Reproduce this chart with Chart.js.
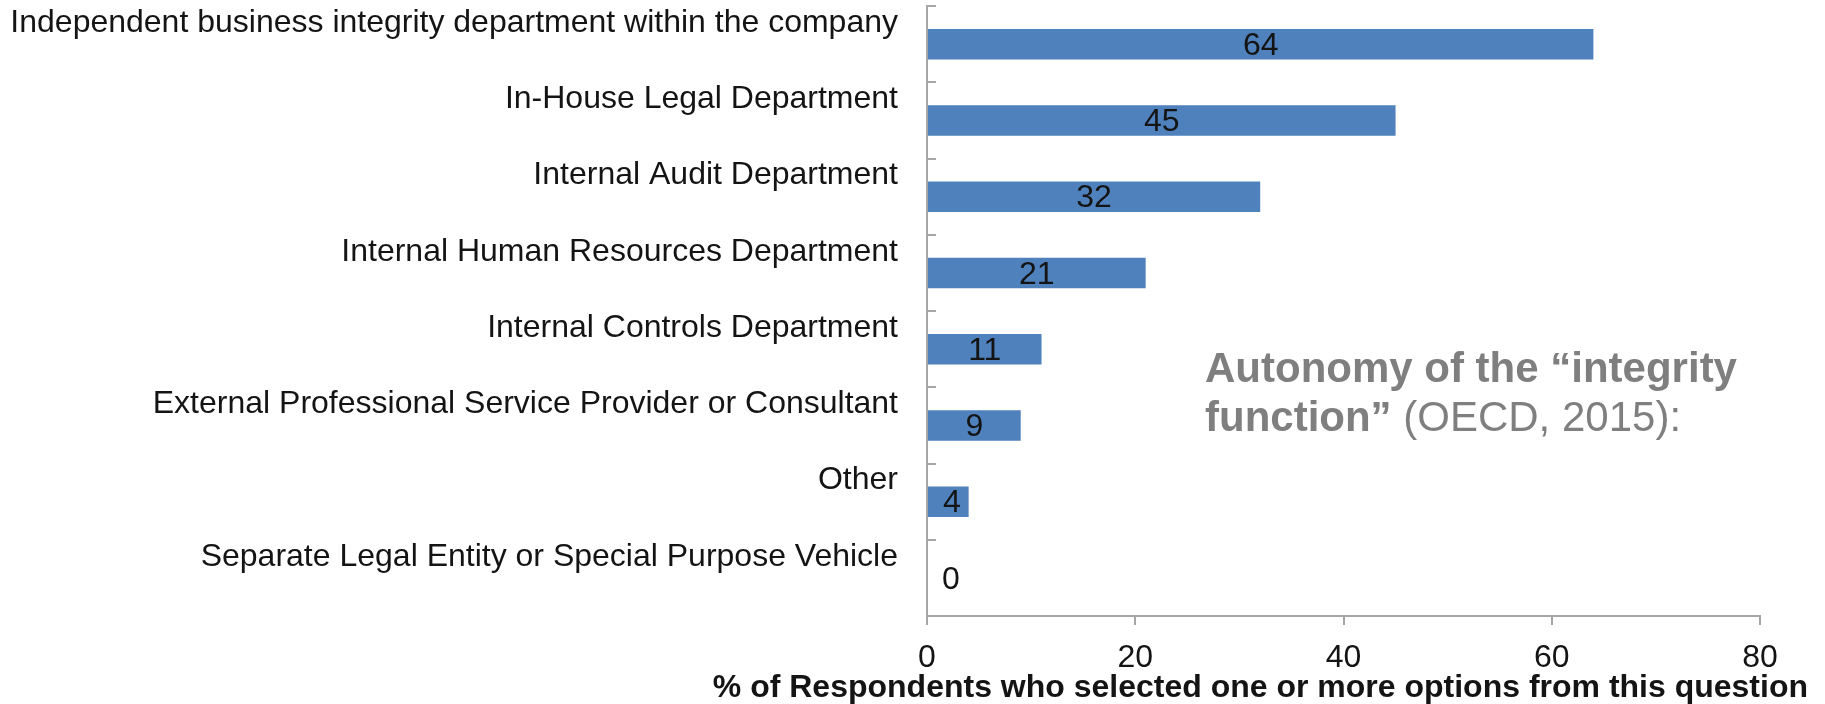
<!DOCTYPE html>
<html>
<head>
<meta charset="utf-8">
<script src="https://cdn.jsdelivr.net/npm/chart.js@4.4.1/dist/chart.umd.min.js"></script>
<style>
  html, body { margin: 0; padding: 0; background: #fff; }
  #wrap { width: 1825px; height: 704px; }
</style>
</head>
<body>
<div id="wrap"><canvas id="chart" width="1825" height="704"></canvas></div>
<script>
// survey answers, top to bottom
const categories = [
  "Independent business integrity department within the company",
  "In-House Legal Department",
  "Internal Audit Department",
  "Internal Human Resources Department",
  "Internal Controls Department",
  "External Professional Service Provider or Consultant",
  "Other",
  "Separate Legal Entity or Special Purpose Vehicle"
];
const percentages = [64, 45, 32, 21, 11, 9, 4, 0];
const xTicks = [0, 20, 40, 60, 80];
const xTitle = "% of Respondents who selected one or more options from this question";
const noteBold = "Autonomy of the \u201Cintegrity";
const noteBold2 = "function\u201D";
const noteRest = " (OECD, 2015):";

const FONT = "'Liberation Sans', Arial, sans-serif";
const axisGrey = "#a6a6a6";

// value labels in the middle of each bar (zero bars get a small nudge off the axis)
const valueLabels = {
  id: "valueLabels",
  afterDatasetsDraw(chart) {
    const ctx = chart.ctx;
    const meta = chart.getDatasetMeta(0);
    ctx.save();
    ctx.font = "32px " + FONT;
    ctx.fillStyle = "#141414";
    ctx.textAlign = "center";
    ctx.textBaseline = "middle";
    meta.data.forEach((bar, i) => {
      const x = Math.max((bar.base + bar.x) / 2, bar.base + 24);
      ctx.fillText(String(percentages[i]), x, bar.y + 2);
    });
    ctx.restore();
  }
};

// short inward tick marks between categories on the y axis
const yTickMarks = {
  id: "yTickMarks",
  afterDraw(chart) {
    const ctx = chart.ctx;
    const area = chart.chartArea;
    const step = (area.bottom - area.top) / categories.length;
    ctx.save();
    ctx.strokeStyle = axisGrey;
    ctx.lineWidth = 2;
    ctx.beginPath();
    for (let i = 0; i <= categories.length; i++) {
      const yy = Math.round(area.top + i * step);
      ctx.moveTo(area.left, yy);
      ctx.lineTo(area.left + 9, yy);
    }
    ctx.stroke();
    ctx.restore();
  }
};

// bottom axis title and the side note
const extraText = {
  id: "extraText",
  afterDraw(chart) {
    const ctx = chart.ctx;
    ctx.save();
    ctx.fillStyle = "#141414";
    ctx.font = "bold 32px " + FONT;
    ctx.textAlign = "right";
    ctx.textBaseline = "alphabetic";
    ctx.fillText(xTitle, chart.width - 17, 697);

    ctx.fillStyle = "#7f7f7f";
    ctx.textAlign = "left";
    ctx.font = "bold 42px " + FONT;
    const nx = 1205;
    ctx.fillText(noteBold, nx, 382);
    ctx.fillText(noteBold2, nx, 431);
    const w = ctx.measureText(noteBold2).width;
    ctx.font = "42px " + FONT;
    ctx.fillText(noteRest, nx + w, 431);
    ctx.restore();
  }
};

new Chart(document.getElementById("chart"), {
  type: "bar",
  data: {
    labels: categories,
    datasets: [{
      data: percentages,
      backgroundColor: "#4f81bd",
      borderWidth: 0,
      barPercentage: 0.4,
      categoryPercentage: 1
    }]
  },
  options: {
    indexAxis: "y",
    responsive: false,
    animation: false,
    events: [],
    layout: { padding: { top: 6, right: 65, left: 0, bottom: 0 } },
    plugins: {
      legend: { display: false },
      tooltip: { enabled: false }
    },
    scales: {
      x: {
        min: 0,
        max: 80,
        afterBuildTicks: (scale) => { scale.ticks = xTicks.map(v => ({ value: v })); },
        afterFit: (scale) => {
          scale.height = 88;
          scale.paddingLeft = 0;
          scale.paddingRight = 0;
        },
        border: { display: true, color: axisGrey, width: 2 },
        grid: {
          drawOnChartArea: false,
          drawTicks: true,
          tickLength: 9,
          color: axisGrey,
          lineWidth: 2
        },
        ticks: {
          color: "#141414",
          font: { family: FONT, size: 32 },
          padding: 14
        }
      },
      y: {
        afterFit: (scale) => {
          scale.width = 927;
          scale.paddingTop = 0;
          scale.paddingBottom = 0;
        },
        border: { display: true, color: axisGrey, width: 2 },
        grid: { display: false, drawTicks: false },
        ticks: {
          color: "#141414",
          font: { family: FONT, size: 32 },
          padding: 29,
          labelOffset: -21,
          autoSkip: false
        }
      }
    }
  },
  plugins: [valueLabels, yTickMarks, extraText]
});
</script>
</body>
</html>
